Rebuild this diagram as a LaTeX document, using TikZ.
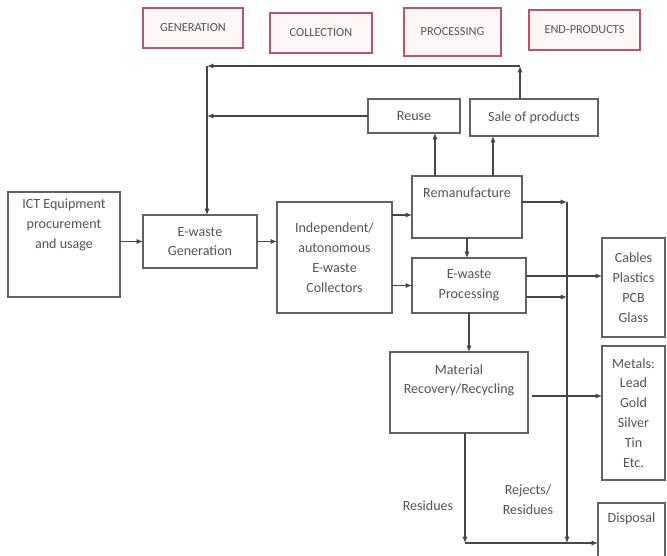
\documentclass[tikz,border=0pt]{standalone}
\usepackage{fontspec}
\setmainfont{Carlito}
\usetikzlibrary{calc,arrows.meta}
\definecolor{linegray}{RGB}{70,70,70}
\definecolor{textgray}{RGB}{85,85,85}
\definecolor{stagered}{RGB}{185,85,100}
\tikzset{
  box/.style={draw=linegray!85, line width=0.9pt, inner sep=0pt, outer sep=0pt, align=center, text=textgray, font=\fontsize{12}{17}\selectfont},
  stage/.style={draw=stagered, line width=1.4pt, fill=red!3, inner sep=0pt, outer sep=0pt, text=textgray, font=\fontsize{10.5}{13}\selectfont},
  boxtext/.style={anchor=north, inner sep=0pt, align=center, text=textgray, font=\fontsize{12}{17}\selectfont},
  flow/.style={draw=linegray, line width=1pt, -{Latex[length=5.5pt,width=4.5pt]}},
}
\begin{document}
\begin{tikzpicture}[x=0.03cm, y=-0.03cm]
        \useasboundingbox (0,0) rectangle (667,556);
        \clip (0,0) rectangle (667,556);
        \fill[white] (0,0) rectangle (667,556);
        % stages
        \node[stage, minimum width=3cm, minimum height=1.2cm] (gen) at (193,28) {GENERATION};
        \node[stage, minimum width=3.06cm, minimum height=1.2cm] (col) at (321,33) {COLLECTION};
        \node[stage, minimum width=2.91cm, minimum height=1.44cm] (proc) at (452.5,32) {PROCESSING};
        \node[stage, minimum width=3.33cm, minimum height=1.2cm] (endp) at (584.5,30) {END-PRODUCTS};
        % boxes
        \node[box, minimum width=3.36cm, minimum height=3.15cm] (ict) at (64,244.5) {};
        \node[boxtext] (ict-t) at ($(ict.north)+(0,7)$) {\fontsize{12}{19}\selectfont ICT Equipment\\procurement\\and usage};
        \node[box, minimum width=3.42cm, minimum height=1.59cm] (ewg) at (200,241.5) {E-waste\\Generation};
        \node[box, minimum width=3.45cm, minimum height=3.33cm] (coll) at (334.5,257.5) {Independent/\\autonomous\\E-waste\\Collectors};
        \node[box, minimum width=2.76cm, minimum height=1.02cm] (reuse) at (414,116) {Reuse};
        \node[box, minimum width=3.84cm, minimum height=1.11cm] (sale) at (534,117.5) {Sale of products};
        \node[box, minimum width=3.3cm, minimum height=1.86cm] (reman) at (467,207) {};
        \node[boxtext] (reman-t) at ($(reman.north)+(0,12)$) {Remanufacture};
        \node[box, minimum width=3.42cm, minimum height=1.65cm] (ewp) at (469,285.5) {E-waste\\Processing};
        \node[box, minimum width=4.14cm, minimum height=2.43cm] (mr) at (459,392.5) {};
        \node[boxtext] (mr-t) at ($(mr.north)+(0,12)$) {Material\\Recovery/Recycling};
        \node[box, minimum width=1.89cm, minimum height=2.97cm] (cables) at (633.5,287.5) {Cables\\Plastics\\PCB\\Glass};
        \node[box, minimum width=1.89cm, minimum height=4.02cm] (metals) at (633.5,413) {Metals:\\Lead\\Gold\\Silver\\Tin\\Etc.};
        \node[box, minimum width=2.01cm, minimum height=2.16cm] (disp) at (631.5,539) {};
        \node[boxtext] (disp-t) at ($(disp.north)+(0,9)$) {Disposal};
        % labels
        \node[boxtext, anchor=center] (res) at (428,506) {Residues};
        \node[boxtext, anchor=center] (rej) at (528,500) {Rejects/\\Residues};
        % helper points
        \coordinate (fbtop) at (207,66);
        \coordinate (vtop) at (567,202);
        \coordinate (vbot) at (567,543);
        \coordinate (rbot) at (465,543);
        \coordinate (ru) at ($(reman.north)+(-32,0)$);
        \coordinate (rs) at ($(reman.north)+(26,0)$);
        \coordinate (su) at ($(sale.north)+(-14,0)$);
        \coordinate (pv) at ($(ewp.east)+(0,11.5)$);
        \coordinate (pc) at ($(ewp.east)+(0,-9.5)$);
        \coordinate (mm) at ($(mr.east)+(4,3.5)$);
        % flows
        \draw[flow] (ict.east |- ewg.west) -- (ewg.west);
        \draw[flow] (ewg.east) -- (ewg.east -| coll.west);
        \draw[flow] ($(coll.east)+(0,-42.5)$) -- ($(reman.west)+(0,8)$);
        \draw[flow] (ewp.west -| coll.east) -- (ewp.west);
        \draw[flow] (ru) -- (ru |- reuse.south);
        \draw[flow] (rs) -- (rs |- sale.south);
        \draw[flow] (su) -- (su |- fbtop);
        \draw[flow] (su |- fbtop) -- (fbtop);
        \draw[flow] (fbtop) -- (fbtop |- ewg.north);
        \draw[flow] (reuse.west) -- (reuse.west -| fbtop);
        \draw[flow] (reman.south) -- (reman.south |- ewp.north);
        \draw[flow] (ewp.south) -- (ewp.south |- mr.north);
        \draw[flow] ($(reman.east)+(0,-5)$) -- (vtop);
        \draw[flow] (pv) -- (pv -| vtop);
        \draw[flow] (pc) -- (pc -| cables.west);
        \draw[flow] (mm) -- (mm -| metals.west);
        \draw[flow] (vtop) -- (vbot);
        \draw[flow] ($(mr.south)+(6,0)$) -- (rbot);
        \draw[flow] (rbot) -- (rbot -| disp.west);
    \end{tikzpicture}
\end{document}
